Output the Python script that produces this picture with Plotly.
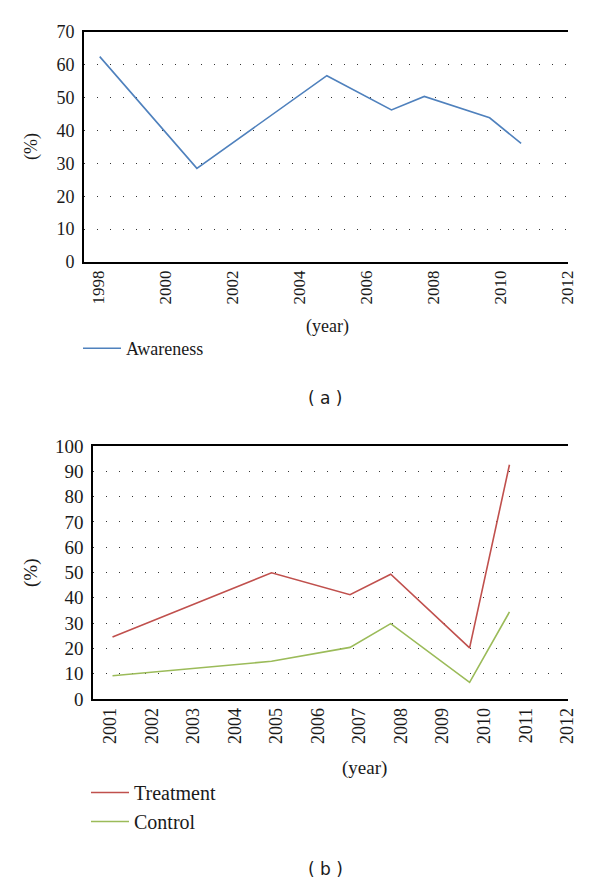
import plotly.graph_objects as go

# Panel (a)
years_a = [1998.05, 2000.95, 2004.83, 2006.76, 2007.74, 2009.69, 2010.63]
awareness = [62.5, 28.5, 56.7, 46.3, 50.4, 43.9, 36.1]
ticks_a = [1998, 2000, 2002, 2004, 2006, 2008, 2010, 2012]

# Panel (b)
years_b = [2001.05, 2004.88, 2006.77, 2007.75, 2009.65, 2010.61]
treatment = [24.5, 49.9, 41.2, 49.3, 20.2, 92.6]
control = [9.2, 14.9, 20.4, 29.8, 6.6, 34.4]
ticks_b = list(range(2001, 2013))

W, H = 600, 885
SERIF = "Liberation Serif"
TXT = "#1a1a1a"

def px(x):
    return x / W

def py(y):
    return 1 - y / H

fig = go.Figure()
fig.add_trace(go.Scatter(x=years_a, y=awareness, mode="lines", name="Awareness",
                         line=dict(color="#4F81BD", width=1.6), xaxis="x", yaxis="y",
                         legend="legend"))
fig.add_trace(go.Scatter(x=years_b, y=treatment, mode="lines", name="Treatment",
                         line=dict(color="#C0504D", width=1.6), xaxis="x2", yaxis="y2",
                         legend="legend2"))
fig.add_trace(go.Scatter(x=years_b, y=control, mode="lines", name="Control",
                         line=dict(color="#9BBB59", width=1.6), xaxis="x2", yaxis="y2",
                         legend="legend2"))

grid = dict(showgrid=True, gridcolor="#333", gridwidth=1.4, griddash="1.4px,11.6px")
common = dict(automargin=False, zeroline=False, showline=True, linecolor="black",
              linewidth=1.6, ticks="")

fig.update_layout(
    width=W, height=H,
    margin=dict(l=0, r=0, t=0, b=0, autoexpand=False),
    paper_bgcolor="white", plot_bgcolor="white",
    xaxis=dict(domain=[px(84), px(568)], range=[1997.58, 2012.03], anchor="y",
               tickvals=ticks_a, ticktext=[str(t) for t in ticks_a], tickangle=-90,
               tickfont=dict(family=SERIF, size=17, color=TXT),
               showgrid=False, mirror=True, **common),
    yaxis=dict(domain=[py(262), py(32)], range=[0, 70], anchor="x",
               tickvals=list(range(0, 71, 10)), ticklabelstandoff=4,
               tickfont=dict(family=SERIF, size=18, color=TXT), **common, **grid),
    xaxis2=dict(domain=[px(93), px(568)], range=[2000.58, 2012.02], anchor="y2",
                tickvals=ticks_b, ticktext=[str(t) for t in ticks_b], tickangle=-90,
                tickfont=dict(family=SERIF, size=18, color=TXT),
                showgrid=False, mirror=True, **common),
    yaxis2=dict(domain=[py(699), py(446)], range=[0, 100], anchor="x2",
                tickvals=list(range(0, 101, 10)), ticklabelstandoff=4,
                tickfont=dict(family=SERIF, size=19, color=TXT), **common, **grid),
    legend=dict(x=px(78), y=py(330), xanchor="left", yanchor="top",
                font=dict(family=SERIF, size=18, color=TXT),
                bgcolor="rgba(0,0,0,0)", itemwidth=38),
    legend2=dict(x=px(86), y=py(773), xanchor="left", yanchor="top",
                 font=dict(family=SERIF, size=20, color=TXT),
                 bgcolor="rgba(0,0,0,0)", itemwidth=38, tracegroupgap=0),
    showlegend=True,
)

annos = [
    dict(text="(year)", x=px(327), y=py(327), size=18),
    dict(text="(year)", x=px(365), y=py(768), size=19),
    dict(text="(%)", x=px(31), y=py(147), size=18, textangle=-90),
    dict(text="(%)", x=px(31), y=py(573), size=19, textangle=-90),
]
for a in annos:
    size = a.pop("size")
    fig.add_annotation(xref="paper", yref="paper", showarrow=False,
                       xanchor="center", yanchor="middle",
                       font=dict(family=SERIF, size=size, color=TXT), **a)

for txt, yy in [("( a )", 398), ("( b )", 869)]:
    fig.add_annotation(xref="paper", yref="paper", showarrow=False, text=txt,
                       x=px(325), y=py(yy), xanchor="center", yanchor="middle",
                       font=dict(family="DejaVu Sans, Arial, sans-serif", size=17, color=TXT))

fig.write_html(
    "out.html",
    config={"displayModeBar": False},
    post_script="document.body.style.margin='0';document.body.style.overflow='hidden';",
)
